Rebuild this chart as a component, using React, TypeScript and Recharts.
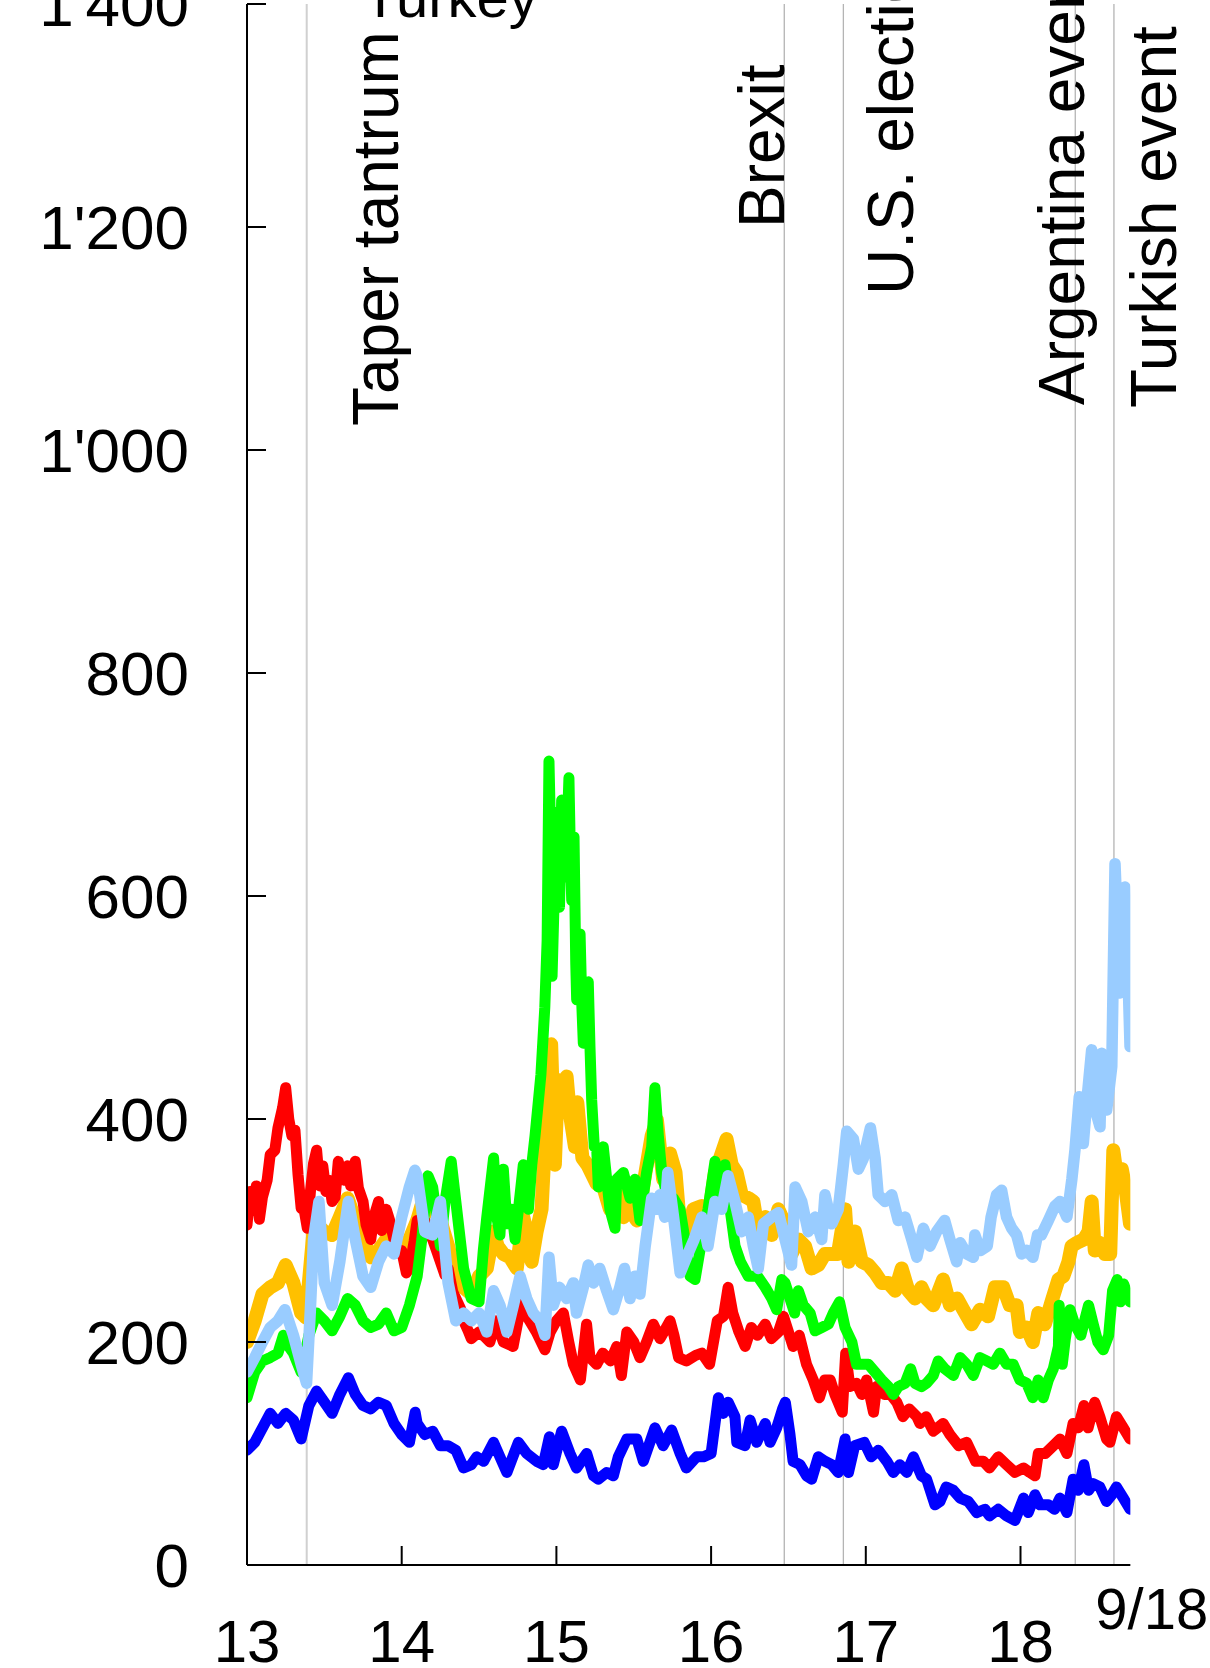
import React from 'react';
import { LineChart, Line, XAxis, YAxis, ReferenceLine } from 'recharts';

// ---------- axis ticks ----------
const xTicks = [2013, 2014, 2015, 2016, 2017, 2018, 2018.71];
const xTickLabels = ['13', '14', '15', '16', '17', '18', '9/18'];
const yTicks = [0, 200, 400, 600, 800, 1000, 1200, 1400];
const yTickLabels = ['0', '200', '400', '600', '800', "1'000", "1'200", "1'400"];

// ---------- events ----------
const eventNames = ['Taper tantrum', 'Brexit', 'U.S. election', 'Argentina event', 'Turkish event'];
const eventDates = [2013.386, 2016.473, 2016.855, 2018.354, 2018.604];
const topNote = 'Turkey';

// ---------- series (decimal year, value) ----------
const redPts: [number, number][] = [
  [2013.00, 305], [2013.02, 335], [2013.04, 318], [2013.06, 340], [2013.08, 310], [2013.10, 330], [2013.13, 345], [2013.15, 368], [2013.18, 372], [2013.20, 392], [2013.23, 410], [2013.25, 428], [2013.27, 400], [2013.29, 385], [2013.31, 390], [2013.33, 350], [2013.35, 320], [2013.37, 318], [2013.39, 302], [2013.41, 335], [2013.43, 360], [2013.45, 372], [2013.47, 340], [2013.49, 358], [2013.51, 335], [2013.53, 345], [2013.55, 326], [2013.57, 330], [2013.59, 362], [2013.61, 350], [2013.63, 345], [2013.65, 358], [2013.67, 340], [2013.70, 362], [2013.72, 338], [2013.75, 326], [2013.77, 305], [2013.80, 292], [2013.82, 312], [2013.85, 326], [2013.87, 300], [2013.90, 319], [2013.92, 310], [2013.95, 292], [2013.97, 280], [2014.00, 282], [2014.03, 262], [2014.05, 266], [2014.08, 290], [2014.10, 309], [2014.13, 300], [2014.15, 309], [2014.18, 296], [2014.20, 292], [2014.23, 280], [2014.25, 272], [2014.28, 260], [2014.30, 266], [2014.33, 245], [2014.35, 239], [2014.38, 230], [2014.40, 219], [2014.43, 210], [2014.45, 203],
  [2014.50, 209], [2014.535, 205], [2014.57, 200], [2014.61, 219], [2014.657, 200], [2014.72, 196], [2014.775, 236], [2014.81, 223], [2014.87, 209], [2014.926, 193], [2014.96, 209], [2015.00, 219], [2015.045, 226], [2015.08, 200], [2015.11, 180], [2015.155, 166], [2015.195, 216], [2015.217, 186], [2015.26, 180], [2015.30, 190], [2015.35, 183], [2015.39, 196], [2015.42, 170], [2015.455, 209], [2015.50, 200], [2015.54, 186], [2015.583, 200], [2015.626, 216], [2015.67, 203], [2015.735, 219], [2015.76, 206], [2015.79, 186], [2015.84, 183], [2015.90, 188],
  [2015.94, 190], [2015.99, 180], [2016.04, 219], [2016.08, 223], [2016.11, 249], [2016.14, 226], [2016.18, 209], [2016.22, 196], [2016.26, 213], [2016.30, 206], [2016.35, 216], [2016.39, 203], [2016.435, 209], [2016.468, 223], [2016.50, 209], [2016.53, 196], [2016.57, 206], [2016.617, 180], [2016.66, 166], [2016.70, 150], [2016.735, 166], [2016.77, 166], [2016.80, 153], [2016.848, 137], [2016.87, 190], [2016.897, 160], [2016.94, 163], [2016.974, 153], [2017.005, 166], [2017.05, 137], [2017.07, 160], [2017.12, 153], [2017.16, 153], [2017.20, 146], [2017.24, 133], [2017.28, 140], [2017.33, 133],
  [2017.35, 127], [2017.39, 133], [2017.436, 120], [2017.50, 127], [2017.544, 117], [2017.60, 107], [2017.652, 110], [2017.71, 93], [2017.76, 93], [2017.80, 87], [2017.856, 97], [2017.91, 90], [2017.964, 83], [2018.02, 87], [2018.06, 83], [2018.094, 80], [2018.115, 100], [2018.16, 100], [2018.212, 107], [2018.255, 113], [2018.30, 100], [2018.34, 127], [2018.373, 123], [2018.41, 143], [2018.437, 123], [2018.48, 146], [2018.513, 133], [2018.556, 113], [2018.578, 110], [2018.62, 133], [2018.665, 123], [2018.708, 113],
];

const orangePts: [number, number][] = [
  [2013.00, 200], [2013.05, 219], [2013.10, 243], [2013.15, 249], [2013.20, 253], [2013.25, 269], [2013.30, 253], [2013.35, 226], [2013.38, 222], [2013.40, 253], [2013.43, 300], [2013.45, 306], [2013.50, 299], [2013.55, 296], [2013.60, 312], [2013.65, 329], [2013.70, 309], [2013.75, 292], [2013.80, 276], [2013.85, 282], [2013.90, 292], [2013.95, 296], [2014.00, 286], [2014.05, 292], [2014.10, 309], [2014.17, 342], [2014.20, 319], [2014.25, 309], [2014.30, 286], [2014.35, 256], [2014.40, 249], [2014.45, 243],
  [2014.50, 259], [2014.55, 266], [2014.594, 299], [2014.62, 286], [2014.657, 279], [2014.70, 276], [2014.744, 266], [2014.786, 312], [2014.808, 299], [2014.84, 272], [2014.872, 299], [2014.904, 319], [2014.926, 379], [2014.948, 425], [2014.966, 467], [2014.99, 359], [2015.01, 435], [2015.04, 420], [2015.066, 438], [2015.087, 405], [2015.12, 375], [2015.135, 415], [2015.168, 365], [2015.20, 359], [2015.26, 342], [2015.303, 339], [2015.346, 319], [2015.39, 339], [2015.433, 312], [2015.476, 319], [2015.52, 309], [2015.56, 339], [2015.616, 385], [2015.65, 399], [2015.69, 346], [2015.735, 369], [2015.77, 352], [2015.79, 319], [2015.84, 292], [2015.885, 319],
  [2015.94, 322], [2015.98, 309], [2016.025, 352], [2016.068, 369], [2016.10, 382], [2016.133, 359], [2016.165, 352], [2016.198, 332], [2016.241, 329], [2016.273, 326], [2016.305, 299], [2016.35, 312], [2016.392, 296], [2016.435, 319], [2016.478, 306], [2016.52, 279], [2016.564, 292], [2016.607, 286], [2016.65, 266], [2016.693, 269], [2016.736, 279], [2016.78, 279], [2016.82, 279], [2016.866, 319], [2016.888, 272], [2016.93, 299], [2016.974, 272], [2017.017, 269], [2017.06, 262], [2017.103, 253], [2017.146, 253], [2017.19, 246], [2017.232, 266], [2017.275, 246], [2017.318, 239], [2017.36, 249],
  [2017.393, 239], [2017.436, 233], [2017.50, 256], [2017.544, 233], [2017.59, 239], [2017.63, 229], [2017.684, 216], [2017.738, 229], [2017.79, 223], [2017.835, 249], [2017.889, 249], [2017.93, 233], [2017.975, 233], [2017.996, 209], [2018.04, 213], [2018.08, 200], [2018.115, 226], [2018.158, 216], [2018.20, 236], [2018.245, 256], [2018.277, 259], [2018.31, 272], [2018.33, 286], [2018.365, 289], [2018.41, 292], [2018.44, 299], [2018.46, 326], [2018.48, 282], [2018.51, 289], [2018.545, 279], [2018.58, 279], [2018.60, 372], [2018.632, 339], [2018.655, 355], [2018.677, 339], [2018.708, 306],
];

const greenPts: [number, number][] = [
  [2013.00, 150], [2013.05, 173], [2013.10, 183], [2013.15, 186], [2013.20, 190], [2013.235, 206], [2013.25, 200], [2013.30, 190], [2013.35, 173], [2013.40, 206], [2013.45, 226], [2013.50, 219], [2013.55, 210], [2013.60, 223], [2013.65, 239], [2013.70, 233], [2013.75, 219], [2013.80, 213], [2013.85, 216], [2013.90, 226], [2013.95, 210], [2014.00, 213], [2014.05, 233], [2014.10, 259], [2014.13, 292], [2014.17, 349], [2014.20, 339], [2014.25, 286], [2014.28, 326], [2014.32, 362], [2014.35, 326], [2014.40, 266], [2014.45, 239],
  [2014.50, 236], [2014.528, 283], [2014.55, 312], [2014.594, 365], [2014.615, 312], [2014.635, 296], [2014.657, 355], [2014.68, 306], [2014.711, 319], [2014.733, 292], [2014.765, 332], [2014.786, 359], [2014.819, 319], [2014.841, 359], [2014.862, 385], [2014.90, 440], [2014.925, 500], [2014.94, 560], [2014.952, 721], [2014.965, 640], [2014.972, 528], [2014.99, 620], [2015.005, 675], [2015.02, 590], [2015.034, 686], [2015.05, 640], [2015.058, 617], [2015.07, 660], [2015.081, 706], [2015.09, 640], [2015.099, 596], [2015.114, 653], [2015.125, 540], [2015.131, 507], [2015.153, 566], [2015.165, 500], [2015.174, 468], [2015.19, 520], [2015.206, 523], [2015.217, 465], [2015.228, 417], [2015.245, 375], [2015.26, 375], [2015.271, 339], [2015.303, 375], [2015.346, 319], [2015.379, 302], [2015.39, 346], [2015.433, 352], [2015.476, 329], [2015.508, 346], [2015.54, 309], [2015.583, 352], [2015.616, 375], [2015.637, 428], [2015.659, 385], [2015.681, 352], [2015.713, 332], [2015.756, 329], [2015.799, 319], [2015.831, 292], [2015.864, 259], [2015.896, 256],
  [2015.94, 292], [2015.98, 319], [2016.025, 362], [2016.058, 326], [2016.09, 359], [2016.123, 319], [2016.155, 286], [2016.19, 272], [2016.24, 259], [2016.30, 259], [2016.35, 249], [2016.392, 239], [2016.424, 229], [2016.457, 256], [2016.478, 253], [2016.51, 239], [2016.54, 226], [2016.564, 246], [2016.596, 233], [2016.64, 226], [2016.672, 210], [2016.715, 213], [2016.758, 216], [2016.79, 226], [2016.83, 236], [2016.866, 213], [2016.91, 200], [2016.94, 180], [2016.974, 180], [2017.017, 180], [2017.06, 173], [2017.103, 166], [2017.146, 160], [2017.178, 153], [2017.21, 160], [2017.254, 163], [2017.29, 176], [2017.318, 163], [2017.36, 160],
  [2017.393, 163], [2017.436, 170], [2017.468, 183], [2017.51, 176], [2017.566, 170], [2017.61, 186], [2017.652, 180], [2017.695, 170], [2017.738, 186], [2017.781, 183], [2017.824, 180], [2017.867, 190], [2017.91, 180], [2017.953, 180], [2017.996, 166], [2018.04, 163], [2018.08, 150], [2018.115, 166], [2018.147, 150], [2018.18, 166], [2018.212, 176], [2018.245, 196], [2018.25, 233], [2018.27, 180], [2018.29, 203], [2018.32, 229], [2018.35, 216], [2018.39, 206], [2018.44, 233], [2018.47, 216], [2018.50, 200], [2018.535, 193], [2018.57, 206], [2018.595, 246], [2018.625, 256], [2018.645, 236], [2018.667, 252], [2018.708, 236],
];

const lightBluePts: [number, number][] = [
  [2013.00, 173], [2013.05, 186], [2013.10, 200], [2013.15, 213], [2013.20, 219], [2013.245, 229], [2013.30, 206], [2013.35, 180], [2013.385, 163], [2013.41, 230], [2013.43, 292], [2013.465, 326], [2013.50, 253], [2013.55, 233], [2013.60, 272], [2013.655, 326], [2013.70, 292], [2013.75, 259], [2013.80, 249], [2013.85, 272], [2013.90, 286], [2013.95, 279], [2014.00, 312], [2014.05, 339], [2014.085, 354], [2014.10, 349], [2014.15, 299], [2014.20, 296], [2014.25, 326], [2014.30, 253], [2014.35, 219], [2014.40, 226], [2014.45, 219],
  [2014.50, 226], [2014.55, 209], [2014.594, 246], [2014.635, 233], [2014.68, 209], [2014.722, 233], [2014.765, 259], [2014.808, 239], [2014.85, 226], [2014.894, 219], [2014.926, 206], [2014.952, 276], [2014.98, 233], [2015.02, 249], [2015.066, 239], [2015.109, 253], [2015.13, 226], [2015.174, 249], [2015.206, 269], [2015.24, 253], [2015.28, 266], [2015.325, 246], [2015.368, 229], [2015.41, 249], [2015.44, 266], [2015.476, 239], [2015.508, 259], [2015.54, 243], [2015.574, 286], [2015.616, 329], [2015.65, 319], [2015.67, 332], [2015.70, 312], [2015.72, 352], [2015.76, 309], [2015.80, 262], [2015.85, 279], [2015.89, 292],
  [2015.94, 312], [2015.98, 286], [2016.025, 326], [2016.068, 319], [2016.11, 349], [2016.154, 326], [2016.198, 299], [2016.24, 312], [2016.273, 286], [2016.305, 266], [2016.338, 306], [2016.392, 312], [2016.435, 316], [2016.478, 292], [2016.52, 269], [2016.543, 339], [2016.586, 326], [2016.628, 299], [2016.672, 312], [2016.715, 292], [2016.736, 332], [2016.78, 306], [2016.822, 319], [2016.855, 359], [2016.877, 389], [2016.92, 382], [2016.952, 355], [2016.985, 365], [2017.03, 392], [2017.06, 365], [2017.08, 332], [2017.125, 326], [2017.168, 332], [2017.21, 309], [2017.254, 312], [2017.297, 292], [2017.33, 276], [2017.372, 302],
  [2017.415, 286], [2017.458, 299], [2017.51, 309], [2017.544, 292], [2017.587, 272], [2017.61, 289], [2017.652, 279], [2017.695, 276], [2017.705, 296], [2017.74, 282], [2017.785, 286], [2017.81, 312], [2017.845, 332], [2017.878, 336], [2017.91, 312], [2017.943, 302], [2017.975, 296], [2018.007, 279], [2018.04, 282], [2018.08, 276], [2018.11, 296], [2018.135, 296], [2018.18, 309], [2018.223, 322], [2018.255, 326], [2018.30, 312], [2018.332, 346], [2018.352, 372], [2018.38, 420], [2018.406, 378], [2018.43, 418], [2018.46, 462], [2018.49, 405], [2018.514, 393], [2018.525, 459], [2018.557, 408], [2018.59, 447], [2018.611, 629], [2018.643, 513], [2018.675, 608], [2018.69, 552], [2018.708, 465],
];

const bluePts: [number, number][] = [
  [2013.00, 103], [2013.05, 110], [2013.10, 123], [2013.15, 136], [2013.20, 127], [2013.25, 136], [2013.30, 130], [2013.35, 113], [2013.40, 143], [2013.45, 156], [2013.50, 146], [2013.55, 136], [2013.60, 153], [2013.655, 168], [2013.70, 153], [2013.75, 143], [2013.80, 140], [2013.85, 146], [2013.90, 143], [2013.95, 127], [2014.00, 117], [2014.05, 110], [2014.087, 137], [2014.10, 127], [2014.15, 117], [2014.20, 120], [2014.25, 107], [2014.30, 107], [2014.35, 103], [2014.40, 87], [2014.45, 90],
  [2014.485, 97], [2014.53, 93], [2014.594, 110], [2014.635, 97], [2014.68, 83], [2014.754, 110], [2014.808, 100], [2014.872, 93], [2014.915, 90], [2014.955, 115], [2014.98, 90], [2015.034, 120], [2015.088, 100], [2015.13, 87], [2015.196, 100], [2015.24, 80], [2015.271, 77], [2015.325, 83], [2015.368, 80], [2015.40, 97], [2015.455, 113], [2015.52, 113], [2015.562, 93], [2015.637, 123], [2015.69, 107], [2015.745, 121], [2015.80, 100], [2015.84, 87], [2015.906, 97],
  [2015.95, 97], [2016.00, 100], [2016.047, 150], [2016.079, 136], [2016.11, 146], [2016.154, 133], [2016.166, 110], [2016.219, 107], [2016.252, 130], [2016.295, 110], [2016.35, 127], [2016.381, 110], [2016.424, 123], [2016.462, 140], [2016.48, 146], [2016.51, 117], [2016.53, 93], [2016.575, 90], [2016.617, 80], [2016.65, 77], [2016.693, 97], [2016.736, 93], [2016.78, 90], [2016.822, 83], [2016.866, 113], [2016.888, 83], [2016.928, 107], [2016.99, 110], [2017.035, 97], [2017.081, 103], [2017.136, 93], [2017.178, 83], [2017.22, 90], [2017.265, 83], [2017.308, 97], [2017.36, 80],
  [2017.393, 77], [2017.447, 54], [2017.48, 57], [2017.52, 70], [2017.566, 67], [2017.61, 60], [2017.662, 57], [2017.717, 47], [2017.77, 50], [2017.80, 44], [2017.856, 50], [2017.91, 44], [2017.964, 40], [2018.02, 60], [2018.05, 47], [2018.094, 63], [2018.125, 54], [2018.18, 54], [2018.22, 50], [2018.255, 60], [2018.30, 47], [2018.34, 77], [2018.373, 67], [2018.41, 90], [2018.44, 67], [2018.47, 73], [2018.513, 70], [2018.556, 57], [2018.59, 63], [2018.62, 70], [2018.665, 60], [2018.708, 50],
];

// ---------- styling / layout (kept apart from data) ----------
const FONT = "'Liberation Sans', Arial, Helvetica, sans-serif";
const FS_Y = 62;
const FS_X = 60;
const FS_END = 58;
const FS_EVENT = 64;
const W = 1210;
const H = 1668;
const PLOT_LEFT = 247;
const PLOT_TOP = 4;
const PLOT_BOTTOM = 1565;
const X_DOMAIN: [number, number] = [2013, 2018.71];
const PX_PER_YEAR = 154.7;
const TICK_LEN = 19;

const seriesStyle = [
  { key: 'orange', pts: orangePts, color: '#ffc000', width: 14 },
  { key: 'red', pts: redPts, color: '#ff0000', width: 11 },
  { key: 'green', pts: greenPts, color: '#00ff00', width: 11 },
  { key: 'lightblue', pts: lightBluePts, color: '#99ccff', width: 11.5 },
  { key: 'blue', pts: bluePts, color: '#0000ff', width: 11 },
];

// label placement per event: offset of the text baseline from the line, and y where text starts
const eventLabelDx = [91, 0, 70, 9, 62];
const eventLabelStartY = [426, 228, 295, 405, 408];

const toRows = (pts: [number, number][]) => pts.map(([t, v]) => ({ t, v }));

const YTick = (props: any) => {
  const { y, payload } = props;
  const i = yTicks.indexOf(payload.value);
  return (
    <g>
      <line x1={PLOT_LEFT} x2={PLOT_LEFT + TICK_LEN} y1={y} y2={y} stroke="#000" strokeWidth={2} />
      <text x={189} y={y} dy={22} textAnchor="end" fontSize={FS_Y} fontFamily={FONT} fill="#000">
        {yTickLabels[i]}
      </text>
    </g>
  );
};

const XTick = (props: any) => {
  const { x, payload } = props;
  const i = xTicks.indexOf(payload.value);
  const label = xTickLabels[i];
  if (i === xTicks.length - 1) {
    return (
      <text x={x - 35} y={1629} textAnchor="start" fontSize={FS_END} fontFamily={FONT} fill="#000">
        {label}
      </text>
    );
  }
  return (
    <g>
      {i > 0 && <line x1={x} x2={x} y1={PLOT_BOTTOM} y2={PLOT_BOTTOM - TICK_LEN} stroke="#000" strokeWidth={2} />}
      <text x={x} y={1662} textAnchor="middle" fontSize={FS_X} fontFamily={FONT} fill="#000">
        {label}
      </text>
    </g>
  );
};

const makeEventLabel = (idx: number) => (props: any) => {
  const vb = props.viewBox || {};
  const lx = (vb.x ?? 0) + eventLabelDx[idx];
  const ly = eventLabelStartY[idx];
  return (
    <g>
      <text
        x={lx}
        y={ly}
        transform={`rotate(-90 ${lx} ${ly})`}
        textAnchor="start"
        fontSize={FS_EVENT}
        fontFamily={FONT}
        fill="#000"
      >
        {eventNames[idx]}
      </text>
      {idx === 0 && (
        <text x={(vb.x ?? 0) + 56} y={17} fontSize={58} fontFamily={FONT} fill="#000">
          {topNote}
        </text>
      )}
    </g>
  );
};

export default function App() {
  const rightMargin = W - (PLOT_LEFT + (X_DOMAIN[1] - X_DOMAIN[0]) * PX_PER_YEAR);
  return (
    <div style={{ position: 'absolute', left: 0, top: 0, width: W, height: H, background: '#fff' }}>
      <LineChart width={W} height={H} margin={{ top: PLOT_TOP, right: rightMargin, bottom: 0, left: 0 }}>
        <XAxis
          dataKey="t"
          type="number"
          domain={X_DOMAIN}
          allowDataOverflow
          ticks={xTicks}
          interval={0}
          tick={(p: any) => <XTick {...p} />}
          tickLine={false}
          axisLine={{ stroke: '#000', strokeWidth: 2 }}
          height={H - PLOT_BOTTOM}
        />
        <YAxis
          type="number"
          domain={[0, 1400]}
          ticks={yTicks}
          interval={0}
          width={PLOT_LEFT}
          tick={(p: any) => <YTick {...p} />}
          tickLine={false}
          axisLine={{ stroke: '#000', strokeWidth: 2 }}
        />
        {eventDates.map((d, i) => (
          <ReferenceLine
            key={eventNames[i]}
            x={d}
            stroke={i === 0 ? '#d0d0d0' : '#b4b4b4'}
            strokeWidth={i === 0 ? 2 : 1.3}
            zIndex={-10}
            label={makeEventLabel(i)}
          />
        ))}
        {seriesStyle.map((s) => (
          <Line
            key={s.key}
            data={toRows(s.pts)}
            dataKey="v"
            type="linear"
            stroke={s.color}
            strokeWidth={s.width}
            strokeLinejoin="round"
            strokeLinecap="round"
            dot={false}
            activeDot={false}
            isAnimationActive={false}
          />
        ))}
      </LineChart>
    </div>
  );
}
